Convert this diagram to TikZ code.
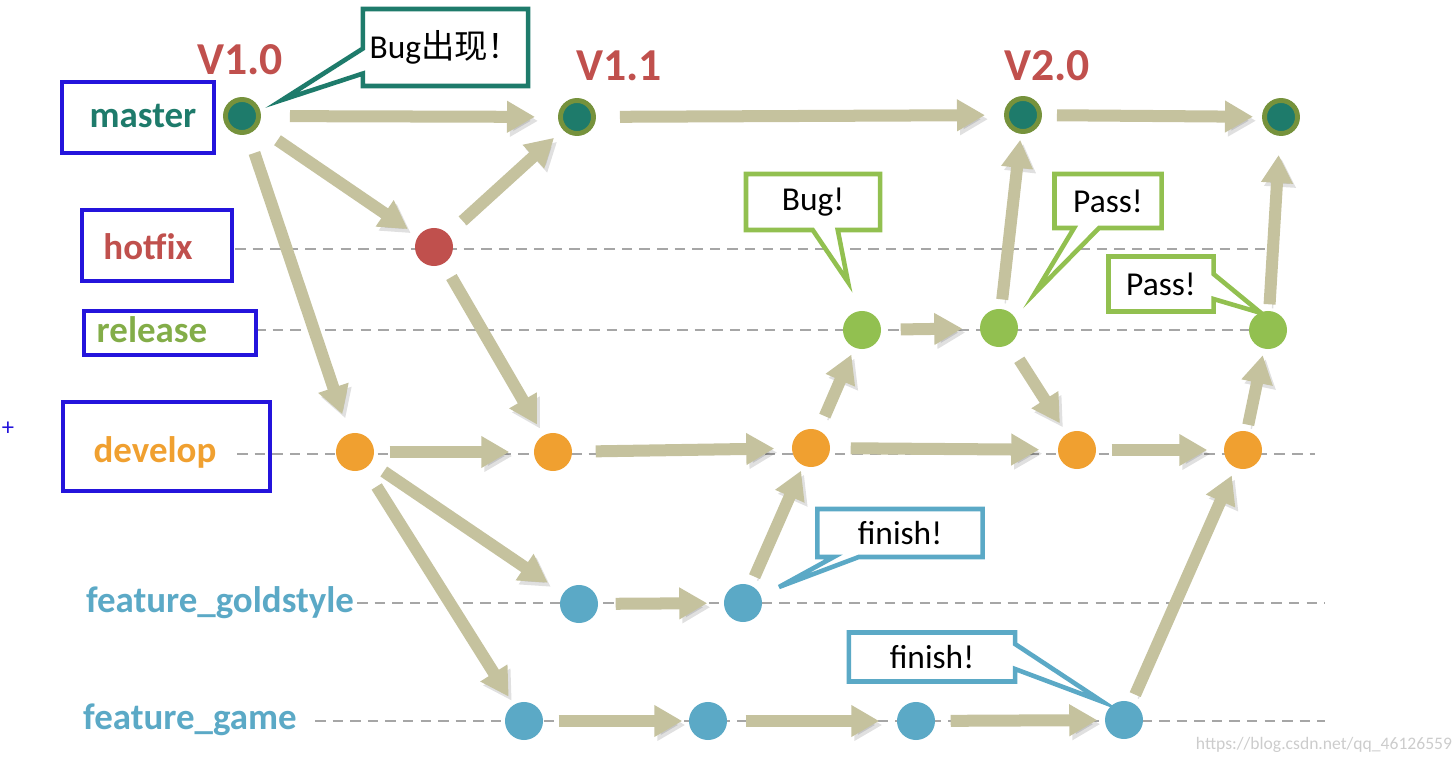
\documentclass[tikz,border=0pt]{standalone}
\usepackage{fontspec}
\setmainfont{Carlito}
\newfontfamily\cjk{Noto Sans CJK SC}
\usetikzlibrary{arrows.meta,shapes.callouts,positioning}

\definecolor{masterc}{HTML}{1E7B6B}
\definecolor{ringc}{HTML}{76923C}
\definecolor{hotfixc}{HTML}{C0504D}
\definecolor{releasec}{HTML}{92C050}
\definecolor{developc}{HTML}{F0A030}
\definecolor{featurec}{HTML}{5BA9C6}
\definecolor{flowc}{HTML}{C5C29E}
\definecolor{boxc}{HTML}{2414DC}
\definecolor{lanec}{HTML}{A6A6A6}

\tikzset{
  commit/.style = {circle, minimum size = 0.38cm, inner sep = 0pt},
  mastercommit/.style = {commit, fill = masterc, draw = ringc, line width = 1.4pt, minimum size = 0.33cm},
  hotfixcommit/.style = {commit, fill = hotfixc},
  releasecommit/.style = {commit, fill = releasec},
  developcommit/.style = {commit, fill = developc},
  featurecommit/.style = {commit, fill = featurec},
  flow/.style = {line width = 0.12cm, flowc, -{Triangle[width = 0.3cm, length = 0.28cm]},
    shorten < = 0.15cm, shorten > = 0.12cm,
    preaction = {draw = black, opacity = 0.12, transform canvas = {shift = {(0.03cm,-0.04cm)}}}},
  lane/.style = {lanec, dash pattern = on 3pt off 2pt, line width = 0.4pt},
  branchbox/.style = {draw = boxc, line width = 1pt, inner sep = 0pt},
  branch/.style = {font = \bfseries\fontsize{10.5}{12}\selectfont},
  version/.style = {font = \bfseries\fontsize{13}{15}\selectfont, hotfixc},
  tip/.style = {rectangle callout, fill = white, line width = 1.3pt, inner sep = 0pt,
    font = \fontsize{9.5}{11}\selectfont, callout pointer width = 0.25cm}
}

\begin{document}
\begin{tikzpicture}[x = 0.01cm, y = -0.01cm]
    \useasboundingbox (0,0) rectangle (1454,764);
    % lanes
    \draw[lane] (235,249) -- (1270,249);
    \draw[lane] (255,330) -- (1290,330);
    \draw[lane] (237,454) -- (1315,454);
    \draw[lane] (357,603) -- (1325,603);
    \draw[lane] (315,721) -- (1325,721);
    % branch names
    \node[branchbox, minimum width = 1.52cm, minimum height = 0.71cm] (masterbox) at (138,117.5) {};
    \node[branchbox, minimum width = 1.50cm, minimum height = 0.71cm] (hotfixbox) at (157,245.5) {};
    \node[branchbox, minimum width = 1.72cm, minimum height = 0.44cm] (releasebox) at (170,333) {};
    \node[branchbox, minimum width = 2.07cm, minimum height = 0.89cm] (developbox) at (166.5,446.5) {};
    \node[branch, masterc] (masterlbl) at (143,116) {master};
    \node[branch, hotfixc] (hotfixlbl) at (148,247) {hotfix};
    \node[branch, releasec!90!black] (releaselbl) at (152,330) {release};
    \node[branch, developc] (developlbl) at (155,452) {develop};
    \node[branch, featurec] (goldlbl) at (220,603) {feature\_goldstyle};
    \node[branch, featurec] (gamelbl) at (190,720) {feature\_game};
    \node[boxc, font = \scriptsize] (plus) at (8,429) {+};
    % versions
    \node[version] (v10) at (240,60) {V1.0};
    \node[version] (v11) at (619,66) {V1.1};
    \node[version] (v20) at (1047,66) {V2.0};
    % commits
    \node[mastercommit] (m1) at (242,116) {};
    \node[mastercommit] (m2) at (577,117) {};
    \node[mastercommit] (m3) at (1023,115) {};
    \node[mastercommit] (m4) at (1281,117) {};
    \node[hotfixcommit] (h1) at (434,247) {};
    \node[releasecommit] (r1) at (862,330) {};
    \node[releasecommit] (r2) at (999,328) {};
    \node[releasecommit] (r3) at (1268,330) {};
    \node[developcommit] (d1) at (355,452) {};
    \node[developcommit] (d2) at (553,452) {};
    \node[developcommit] (d3) at (811,448) {};
    \node[developcommit] (d4) at (1077,450) {};
    \node[developcommit] (d5) at (1243,450) {};
    \node[featurecommit] (g1) at (579,604) {};
    \node[featurecommit] (g2) at (743,603) {};
    \node[featurecommit] (f1) at (524,721) {};
    \node[featurecommit] (f2) at (708,721) {};
    \node[featurecommit] (f3) at (916,721) {};
    \node[featurecommit] (f4) at (1124,720) {};
    % merges
    \draw[flow, shorten < = 0.29cm, shorten > = 0.23cm] (m1) -- (m2);
    \draw[flow, shorten < = 0.24cm] (m1) -- (h1);
    \draw[flow, shorten < = 0.2cm, shorten > = 0.2cm] (m1) -- (d1);
    \draw[flow, shorten < = 0.19cm] (h1) -- (m2);
    \draw[flow] (h1) -- (d2);
    \draw[flow, shorten < = 0.24cm, shorten > = 0.19cm] (m2) -- (m3);
    \draw[flow, shorten > = 0.09cm] (m3) -- (m4);
    \draw[flow, shorten < = 0.09cm, shorten > = 0.06cm] (r2) -- (m3);
    \draw[flow, shorten < = 0.06cm, shorten > = 0.19cm] (r3) -- (m4);
    \draw[flow, shorten < = 0.19cm, shorten > = 0.17cm] (r1) -- (r2);
    \draw[flow, shorten < = 0.18cm] (r2) -- (d4);
    \draw[flow, shorten > = 0.24cm] (d1) -- (d2);
    \draw[flow, shorten < = 0.23cm, shorten > = 0.17cm] (d2) -- (d3);
    \draw[flow, shorten > = 0.07cm] (d3) -- (r1);
    \draw[flow, shorten < = 0.2cm, shorten > = 0.18cm] (d3) -- (d4);
    \draw[flow, shorten > = 0.16cm] (d4) -- (d5);
    \draw[flow, shorten < = 0.06cm, shorten > = 0.06cm] (d5) -- (r3);
    \draw[flow, shorten > = 0.18cm] (d1) -- (g1);
    \draw[flow, shorten < = 0.21cm, shorten > = 0.09cm] (d1) -- (f1);
    \draw[flow, shorten < = 0.17cm, shorten > = 0.16cm] (g1) -- (g2);
    \draw[flow, shorten < = 0.09cm, shorten > = 0.05cm] (g2) -- (d3);
    \draw[flow, shorten > = 0.06cm] (f1) -- (f2);
    \draw[flow, shorten < = 0.18cm, shorten > = 0.17cm] (f2) -- (f3);
    \draw[flow, shorten > = 0.07cm] (f3) -- (f4);
    \draw[flow, shorten < = 0.08cm, shorten > = 0.08cm] (f4) -- (d5);
    % notes
    \node[tip, draw = masterc, minimum width = 1.65cm, minimum height = 0.77cm,
      callout absolute pointer = {(282,100)}] (bugnote) at (445.5,47.5) {Bug{\cjk 出现！}};
    \node[tip, draw = releasec, minimum width = 1.34cm, minimum height = 0.56cm,
      callout absolute pointer = {(848,282)}] (bugmark) at (813,202) {Bug!};
    \node[tip, draw = releasec, minimum width = 1.07cm, minimum height = 0.54cm,
      callout absolute pointer = {(1035,293)}] (passup) at (1108,201) {Pass!};
    \node[tip, draw = releasec, minimum width = 1.05cm, minimum height = 0.55cm,
      callout absolute pointer = {(1261,313)}] (passdown) at (1161,284) {Pass!};
    \node[tip, draw = featurec, minimum width = 1.65cm, minimum height = 0.48cm,
      callout absolute pointer = {(779,587)}] (goldfinish) at (900,533) {finish!};
    \node[tip, draw = featurec, minimum width = 1.66cm, minimum height = 0.49cm,
      callout absolute pointer = {(1103,702)}] (gamefinish) at (932,657) {finish!};
    \node[gray!40, font = \fontsize{5}{6}\selectfont] (mark) at (1324,745) {https://blog.csdn.net/qq\_46126559};
\end{tikzpicture}
\end{document}
